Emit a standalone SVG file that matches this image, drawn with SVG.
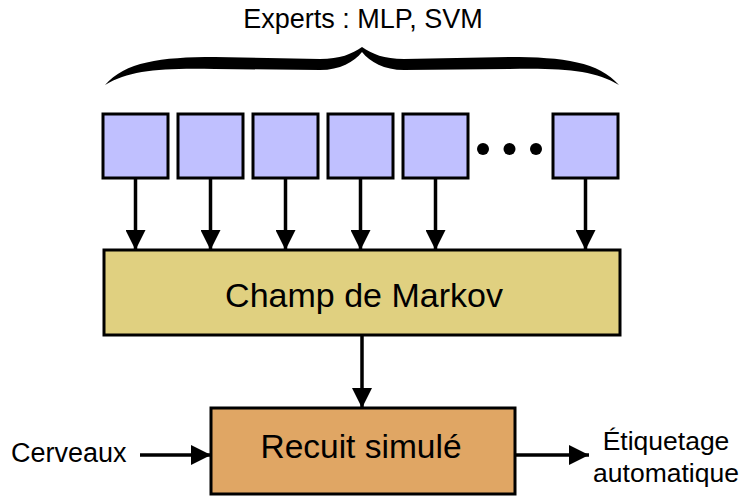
<svg xmlns="http://www.w3.org/2000/svg" width="743" height="498" viewBox="0 0 743 498">
  <style>
    text { font-family: "Liberation Sans", Arial, sans-serif; fill: #000; }
    .expert { fill: #c0c0ff; stroke: #000; stroke-width: 3; }
    .wire { stroke: #000; stroke-width: 3.5; fill: none; }
  </style>
  <defs>
    <marker id="head" markerUnits="userSpaceOnUse" markerWidth="22" markerHeight="20" refX="20" refY="10" orient="auto">
      <path d="M0,0 L20,10 L0,20 Z" fill="#000"/>
    </marker>
  </defs>
  <rect width="743" height="498" fill="#fff"/>

  <text x="363" y="28" font-size="27" text-anchor="middle">Experts : MLP, SVM</text>

  <!-- calligraphic brace over the experts -->
  <path id="brace" fill="#000" d="M105,85 C125,62 160,57 215,57 L320,59 C340,59 352,54 362,47 C372,54 384,59 404,59 L509,57 C564,57 599,62 619,85 C594,70 564,68 509,69 L404,70 C384,70 370,62 362,52 C354,62 340,70 320,70 L215,69 C160,68 130,70 105,85 Z"/>

  <g id="expert1"><rect class="expert" x="103" y="114" width="65" height="64"/></g>
  <g id="expert2"><rect class="expert" x="178" y="114" width="65" height="64"/></g>
  <g id="expert3"><rect class="expert" x="253" y="114" width="65" height="64"/></g>
  <g id="expert4"><rect class="expert" x="328" y="114" width="65" height="64"/></g>
  <g id="expert5"><rect class="expert" x="403" y="114" width="65" height="64"/></g>
  <g id="ellipsis">
    <circle cx="483" cy="149" r="6"/>
    <circle cx="509.5" cy="149" r="6"/>
    <circle cx="536" cy="149" r="6"/>
  </g>
  <g id="expertN"><rect class="expert" x="553" y="114" width="65" height="64"/></g>

  <g id="markov">
    <rect x="104" y="250" width="516" height="85" fill="#e0d080" stroke="#000" stroke-width="3"/>
    <text x="364" y="307" font-size="34" text-anchor="middle">Champ de Markov</text>
  </g>

  <g id="recuit">
    <rect x="211" y="408" width="304" height="86" fill="#e0a664" stroke="#000" stroke-width="3"/>
    <text x="361" y="458" font-size="33.5" text-anchor="middle">Recuit simulé</text>
  </g>

  <g id="input"><text x="11" y="462" font-size="27">Cerveaux</text></g>
  <g id="output">
    <text x="666" y="450" font-size="26.5" text-anchor="middle">Étiquetage</text>
    <text x="666" y="482" font-size="26.5" text-anchor="middle">automatique</text>
  </g>

  <g id="connectors">
    <line class="wire" x1="135.5" y1="179" x2="135.5" y2="250" marker-end="url(#head)"/>
    <line class="wire" x1="210.5" y1="179" x2="210.5" y2="250" marker-end="url(#head)"/>
    <line class="wire" x1="285.5" y1="179" x2="285.5" y2="250" marker-end="url(#head)"/>
    <line class="wire" x1="360.5" y1="179" x2="360.5" y2="250" marker-end="url(#head)"/>
    <line class="wire" x1="435.5" y1="179" x2="435.5" y2="250" marker-end="url(#head)"/>
    <line class="wire" x1="585.5" y1="179" x2="585.5" y2="250" marker-end="url(#head)"/>
    <line class="wire" x1="362" y1="336" x2="362" y2="408" marker-end="url(#head)"/>
    <line class="wire" x1="140" y1="455" x2="211" y2="455" marker-end="url(#head)"/>
    <line class="wire" x1="516" y1="455" x2="589" y2="455" marker-end="url(#head)"/>
  </g>
</svg>
